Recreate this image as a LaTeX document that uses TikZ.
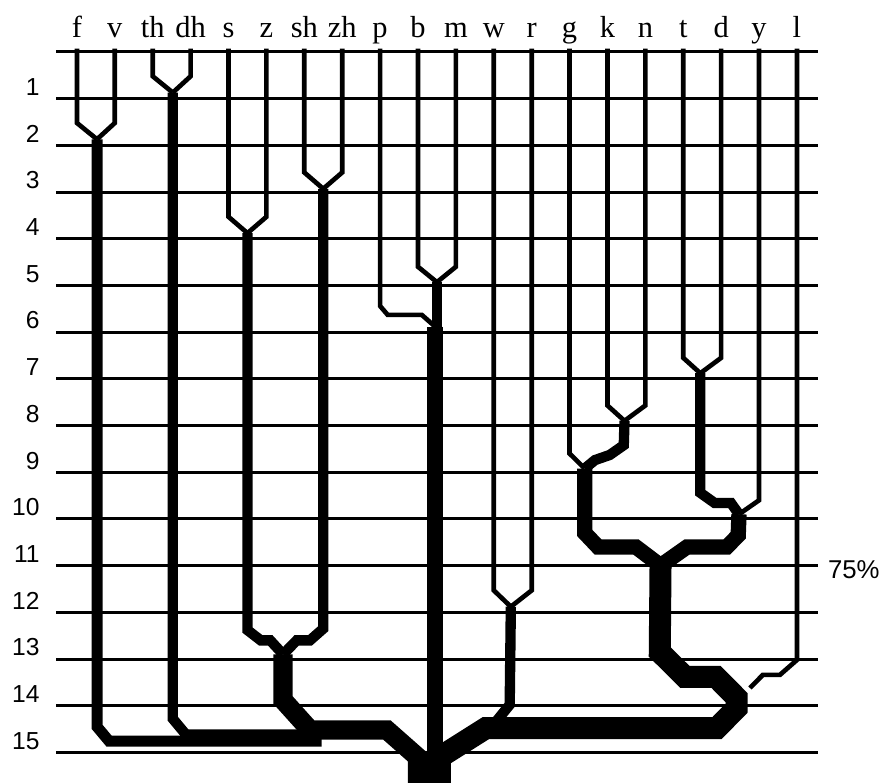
\documentclass[tikz,border=0pt]{standalone}
\usepackage{fontspec}
\setmainfont{Liberation Serif}
\setsansfont{Liberation Sans}
\begin{document}
\begin{tikzpicture}[x=1.137cm,y=-1.401cm,
  hline/.style={line width=0.9mm},
  leaf/.style={line width=1.4mm},
  pair/.style={line width=3.1mm},
  trio/.style={line width=4.6mm},
  quad/.style={line width=5.8mm},
  big/.style={line width=6.6mm},
  phon/.style={anchor=base,inner sep=0pt,font=\fontsize{26}{30}\selectfont},
  rowlab/.style={anchor=east,inner sep=0pt,font=\sffamily\fontsize{21}{24}\selectfont},
  pct/.style={inner sep=0pt,font=\sffamily\fontsize{22}{26}\selectfont}]
\useasboundingbox (-2.03,-1.113) rectangle (21.35,15.65);

% rows
\foreach \r in {0,...,15}
  \draw[hline] (-0.55,\r) -- (19.55,\r);
\foreach \r in {1,...,15}
  \node[rowlab] (row-\r) at (-0.98,\r-0.25) {\r};
\node[pct] (pct) at (20.5,11.09) {75\%};

% sounds along the top
\foreach \n [count=\i from 0] in {f,v,th,dh,s,z,sh,zh,p,b,m,w,r,g,k,n,t,d,y,l} {
  \node[phon] (lab-\n) at (\i,-0.31) {\n};
  \coordinate (c-\n) at (\i,-0.07);
}

% merge points
\coordinate (thdh) at (2.53,0.87);
\coordinate (fv) at (0.53,1.87);
\coordinate (shzh) at (6.5,2.93);
\coordinate (sz) at (4.5,3.88);
\coordinate (bm) at (9.5,4.93);
\coordinate (pbm) at (9.45,5.88);
\coordinate (td) at (16.45,6.88);
\coordinate (kn) at (14.45,7.9);
\coordinate (gkn) at (13.4,8.92);
\coordinate (tdy) at (17.47,9.9);
\coordinate (gt) at (15.4,11.0);
\coordinate (wr) at (11.45,11.88);
\coordinate (szsh) at (5.44,12.9);
\coordinate (root) at (9.45,15.65);
\coordinate (root-l) at (8.99,15.65);
\coordinate (root-r) at (9.58,15.65);

% single sounds
\foreach \n/\i/\d/\m in {f/0/1.52/fv, v/1/1.52/fv, th/2/0.52/thdh, dh/3/0.52/thdh,
    s/4/3.53/sz, z/5/3.53/sz, sh/6/2.58/shzh, zh/7/2.58/shzh, b/9/4.6/bm, m/10/4.6/bm,
    w/11/11.53/wr, r/12/11.53/wr, g/13/8.6/gkn, k/14/7.57/kn, n/15/7.57/kn,
    t/16/6.55/td, d/17/6.55/td, y/18/9.6/tdy}
  \draw[leaf] (c-\n) -- (\i,\d) -- (\m);
\draw[leaf] (c-p) -- (8,5.44) -- (8.2,5.63) -- (9.1,5.63) -- (pbm);
\draw[leaf] (c-l) -- (19,13.02) -- (18.55,13.34) -- (18.1,13.34) -- (17.76,13.62);

% pairs
\draw[pair] (thdh) -- (2.53,14.28) -- (2.88,14.62) -- (6.2,14.62);
\draw[line width=3.3mm] (fv) -- (0.53,14.45) -- (0.85,14.76) -- (6.46,14.76);
\draw[pair] (sz) -- (4.5,12.38) -- (4.85,12.6) -- (5.1,12.6) -- (szsh);
\draw[pair] (shzh) -- (6.5,12.35) -- (6.15,12.6) -- (5.8,12.6) -- (szsh);
\draw[pair] (bm) -- (9.5,5.95);
\draw[pair] (td) -- (16.45,9.44) -- (16.83,9.66) -- (17.26,9.66) -- (tdy);
\draw[pair] (kn) -- (14.43,8.42) -- (14.06,8.63) -- (13.67,8.74) -- (gkn);
\draw[pair] (wr) -- (11.42,13.98) -- (11.05,14.35);

% bigger groups
\draw[trio] (pbm) -- (root);
\draw[trio] (gkn) -- (13.4,10.3) -- (13.75,10.6) -- (14.75,10.6) -- (gt);
\draw[trio] (tdy) -- (17.45,10.35) -- (17.15,10.6) -- (16.1,10.6) -- (gt);
\draw[quad] (szsh) -- (5.44,13.88) -- (6.15,14.52) -- (8.18,14.52) -- (8.99,15.1) -- (root-l);
\draw[big] (gt) -- (15.38,12.85) -- (16.04,13.38) -- (16.86,13.38) -- (17.41,13.83)
  -- (17.41,14.05) -- (16.89,14.48) -- (10.79,14.48) -- (9.58,15.1) -- (root-r);
\end{tikzpicture}
\end{document}
